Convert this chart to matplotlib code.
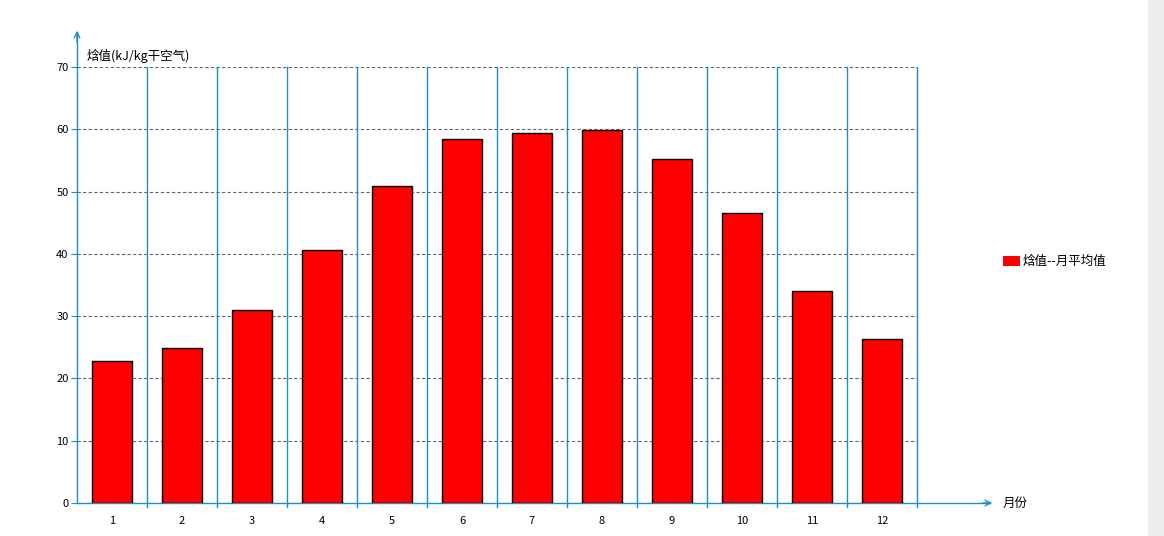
import matplotlib.pyplot as plt
from matplotlib.patches import Rectangle

plt.rcParams['font.family'] = ['Noto Sans CJK SC', 'DejaVu Sans']

months = ['1', '2', '3', '4', '5', '6', '7', '8', '9', '10', '11', '12']
enthalpy = [22.8, 24.9, 31.0, 40.6, 50.9, 58.4, 59.4, 59.9, 55.2, 46.6, 34.0, 26.3]
yticks = [0, 10, 20, 30, 40, 50, 60, 70]

W, H = 1164, 536
fig = plt.figure(figsize=(W / 100, H / 100), dpi=100)
x0, x1, y0, y1 = 77, 917, 503, 67
ax = fig.add_axes([x0 / W, (H - y0) / H, (x1 - x0) / W, (y0 - y1) / H])

blue = '#1e8fc4'
pos = list(range(len(months)))
ax.bar(pos, enthalpy, width=0.57, color='#ff0000', edgecolor='black', linewidth=1, zorder=3)

ax.set_xlim(-0.5, len(months) - 0.5)
ax.set_ylim(0, 70)
ax.set_yticks(yticks)
ax.set_xticks(pos)
ax.set_xticklabels(months)
ax.tick_params(axis='x', length=0, labelsize=8, pad=9)
ax.tick_params(axis='y', length=4, color=blue, labelsize=8, pad=2)

for y in yticks[1:]:
    ax.axhline(y, color='#666666', linestyle=(0, (3, 2)), linewidth=0.8, zorder=1)
for k in range(1, len(months) + 1):
    ax.plot([k - 0.5, k - 0.5], [-0.6, 70], color=blue, linewidth=1, clip_on=False, zorder=1)

for s in ['top', 'right']:
    ax.spines[s].set_visible(False)
for s in ['left', 'bottom']:
    ax.spines[s].set_color(blue)
    ax.spines[s].set_linewidth(1)

# axis arrows
fig.add_artist(plt.Line2D([x1 / W, 990 / W], [(H - y0) / H] * 2, color=blue, linewidth=1))
fig.add_artist(plt.Line2D([x0 / W] * 2, [(H - y1) / H, (H - 32) / H], color=blue, linewidth=1))
ax.annotate('', xy=(995 / W, (H - y0) / H), xytext=(980 / W, (H - y0) / H), xycoords='figure fraction',
            arrowprops=dict(arrowstyle='->', color=blue, lw=1))
ax.annotate('', xy=(x0 / W, (H - 28) / H), xytext=(x0 / W, (H - 45) / H), xycoords='figure fraction',
            arrowprops=dict(arrowstyle='->', color=blue, lw=1))

fig.text(1003 / W, (H - y0) / H, '月份', fontsize=9, va='center', ha='left')
fig.text(87 / W, (H - 56) / H, '焓值(kJ/kg干空气)', fontsize=9, va='center', ha='left')

# legend
fig.patches.append(Rectangle((1003 / W, (H - 266) / H), 17 / W, 10 / H, transform=fig.transFigure,
                             facecolor='#ff0000', edgecolor='none'))
fig.text(1023 / W, (H - 261) / H, '焓值--月平均值', fontsize=9, va='center', ha='left')

# scrollbar strip on the right
fig.patches.append(Rectangle((1148 / W, 0), 16 / W, 1, transform=fig.transFigure,
                             facecolor='#eeeeee', edgecolor='none'))

fig.savefig('out.png', dpi=100)
